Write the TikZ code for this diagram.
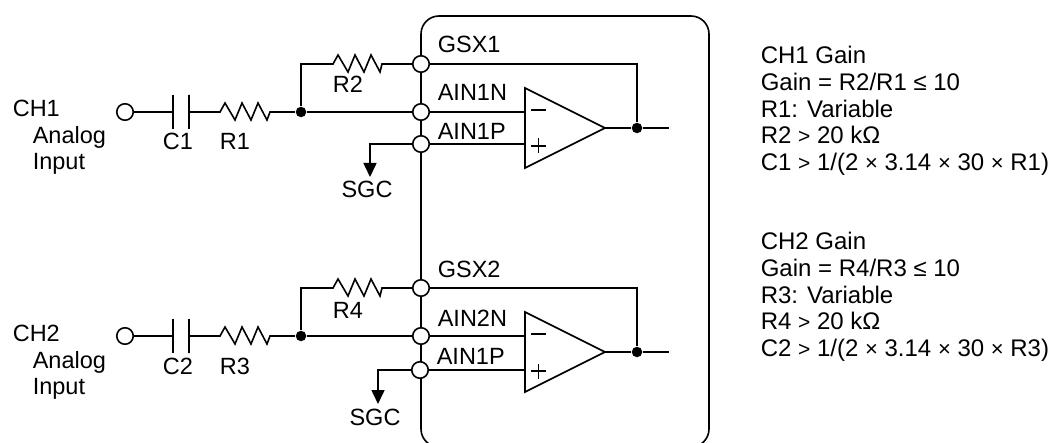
\documentclass[tikz,border=0pt]{standalone}
\usepackage{fontspec}
\setmainfont{Liberation Sans}
\usetikzlibrary{arrows.meta}
\tikzset{
  lbl/.style={inner sep=0pt,anchor=base west,font=\fontsize{23.5}{27}\selectfont},
  lblc/.style={lbl,anchor=base},
  notes/.style={inner sep=0pt,anchor=north west,align=left,font=\fontsize{24}{26.7}\selectfont},
  pad/.style={circle,draw,fill=white,inner sep=0pt,minimum size=16.5pt},
  dot/.style={circle,fill=black,inner sep=0pt,minimum size=10.5pt},
  resistor/.style={to path={-- ++(5,-9) -- ++(10,17) -- ++(7,-17) -- ++(9,17) -- ++(7,-17) -- ++(9,17) -- (\tikztotarget)}},
  sgnd/.style={-{Triangle[width=13pt,length=14pt]}}
}
\newcommand{\smgt}{{\fontsize{21}{21}\selectfont >}}
\newcommand{\smx}{{\fontsize{22}{22}\selectfont ×}}
\begin{document}
\begin{tikzpicture}[x=1pt,y=-1pt,line width=1.6pt]
\useasboundingbox (0,0) rectangle (1051,443);
% chip outline
\node (chip) [draw,rounded corners=18pt,minimum width=288pt,minimum height=431pt] at (565,231.5) {};

% channel 1
\node (gsx1) [pad] at (421,64) {};
\node (ain1n) [pad] at (421,112) {};
\node (ain1p) [pad] at (421,144) {};
\node (in1) [pad] at (125,112) {};
\node (sum1) [dot] at (301,112) {};
\node (out1) [dot] at (637,128) {};
\coordinate (end1) at (669,128);
\coordinate (ampa1) at (525,88);
\coordinate (ampb1) at (525,168);
\coordinate (ampc1) at (605,128);
\coordinate (ampn1) at (525,112);
\coordinate (ampp1) at (525,144);
\coordinate (capa1) at (173,112);
\coordinate (capb1) at (189,112);
\coordinate (resa1) at (220,112);
\coordinate (resb1) at (270,112);
\coordinate (fba1) at (333,64);
\coordinate (fbb1) at (382,64);
\coordinate (gnd1) at (370,177);
\draw (in1) -- (capa1) (capa1) +(0,-17) -- +(0,17);
\draw (capb1) +(0,-17) -- +(0,17) (capb1) -- (resa1) to[resistor] (resb1) -- (sum1);
\draw (sum1) -- (ain1n) -- (ampn1);
\draw (sum1) |- (fba1) to[resistor] (fbb1) -- (gsx1);
\draw (ampa1) -- (ampc1) -- (ampb1) -- cycle;
\draw (gsx1) -| (out1);
\draw (ampc1) -- (out1) -- (end1);
\draw (ain1p) -- (ampp1);
\draw[sgnd] (ain1p) -| (gnd1);
\draw (531,110) -- (546,110) (531,146) -- (546,146) (538.5,138.5) -- (538.5,153.5);

% channel 2
\node (gsx2) [pad] at (421,288) {};
\node (ain2n) [pad] at (421,336) {};
\node (ain2p) [pad] at (420,370) {};
\node (in2) [pad] at (125,336) {};
\node (sum2) [dot] at (301,336) {};
\node (out2) [dot] at (637,352) {};
\coordinate (end2) at (669,352);
\coordinate (ampa2) at (525,312);
\coordinate (ampb2) at (525,392);
\coordinate (ampc2) at (605,352);
\coordinate (ampn2) at (525,336);
\coordinate (ampp2) at (525,370);
\coordinate (capa2) at (173,336);
\coordinate (capb2) at (189,336);
\coordinate (resa2) at (220,336);
\coordinate (resb2) at (270,336);
\coordinate (fba2) at (333,288);
\coordinate (fbb2) at (382,288);
\coordinate (gnd2) at (378,404);
\draw (in2) -- (capa2) (capa2) +(0,-17) -- +(0,17);
\draw (capb2) +(0,-17) -- +(0,17) (capb2) -- (resa2) to[resistor] (resb2) -- (sum2);
\draw (sum2) -- (ain2n) -- (ampn2);
\draw (sum2) |- (fba2) to[resistor] (fbb2) -- (gsx2);
\draw (ampa2) -- (ampc2) -- (ampb2) -- cycle;
\draw (gsx2) -| (out2);
\draw (ampc2) -- (out2) -- (end2);
\draw (ain2p) -- (ampp2);
\draw[sgnd] (ain2p) -| (gnd2);
\draw (531,334) -- (546,334) (531,371) -- (546,371) (538.5,363.5) -- (538.5,378.5);

% labels
\node (ch1) [lbl] at (12,117) {CH1};
\node (ana1) [lbl] at (32,144) {Analog};
\node (inp1) [lbl] at (32,170) {Input};
\node (c1) [lblc] at (178,150) {C1};
\node (r1) [lblc] at (235,150) {R1};
\node (r2) [lblc] at (348,93) {R2};
\node (sgc1) [lblc] at (367,198) {SGC};
\node (tgsx1) [lbl] at (437,53) {GSX1};
\node (tain1n) [lbl] at (437,101) {AIN1N};
\node (tain1p) [lbl] at (437,140) {AIN1P};
\node (ch2) [lbl] at (12,341) {CH2};
\node (ana2) [lbl] at (32,368) {Analog};
\node (inp2) [lbl] at (32,394) {Input};
\node (c2) [lblc] at (178,374) {C2};
\node (r3) [lblc] at (235,374) {R3};
\node (r4) [lblc] at (348,318) {R4};
\node (sgc2) [lblc] at (375,425) {SGC};
\node (tgsx2) [lbl] at (437,278) {GSX2};
\node (tain2n) [lbl] at (437,326) {AIN2N};
\node (tain2p) [lbl] at (436,364) {AIN1P};

% gain notes
\node (note1) [notes] at (760,45.5) {CH1 Gain\\Gain = R2/R1 ≤ 10\\R1: Variable\\R2 \smgt{} 20 kΩ\\C1 \smgt{} 1/(2 \smx{} 3.14 \smx{} 30 \smx{} R1)};
\node (note2) [notes] at (760,231.5) {CH2 Gain\\Gain = R4/R3 ≤ 10\\R3: Variable\\R4 \smgt{} 20 kΩ\\C2 \smgt{} 1/(2 \smx{} 3.14 \smx{} 30 \smx{} R3)};
\end{tikzpicture}
\end{document}
